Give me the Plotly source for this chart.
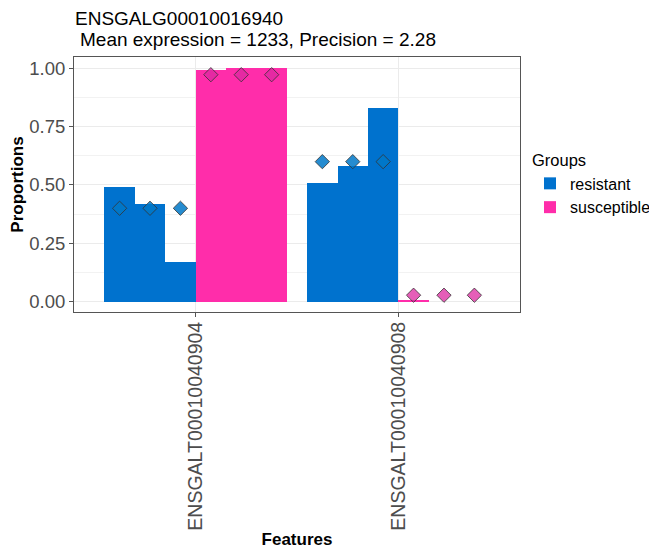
import plotly.graph_objects as go

# ---- data ----
features = ["ENSGALT00010040904", "ENSGALT00010040908"]
groups = ["resistant", "susceptible"]
# per-sample proportions for each feature (3 samples per group)
resistant_props = [[0.49, 0.42, 0.17], [0.51, 0.58, 0.83]]
susceptible_props = [[0.994, 1.0, 1.0], [0.006, 0.0, 0.0]]
# group mean proportion per feature (diamonds)
resistant_means = [0.40, 0.60]
susceptible_means = [0.973, 0.027]
y_ticks = [0.0, 0.25, 0.5, 0.75, 1.0]
y_ticklabels = ["0.00", "0.25", "0.50", "0.75", "1.00"]
title_line1 = "ENSGALG00010016940"
title_line2 = "Mean expression = 1233, Precision = 2.28"

bar_colors = {"resistant": "#0072CE", "susceptible": "#FF2DAA"}
pt_colors = {"resistant": "rgba(0,120,200,0.85)", "susceptible": "rgba(220,40,160,0.75)"}

offsets = {"resistant": [-0.375, -0.225, -0.075], "susceptible": [0.075, 0.225, 0.375]}
props = {"resistant": resistant_props, "susceptible": susceptible_props}
means = {"resistant": resistant_means, "susceptible": susceptible_means}

FONT = "Liberation Sans, Arial, sans-serif"

fig = go.Figure()
for g in groups:
    xs, ys, mx, my = [], [], [], []
    for i, f in enumerate(features):
        for j, off in enumerate(offsets[g]):
            xs.append(i + off)
            ys.append(props[g][i][j])
            mx.append(i + off)
            my.append(means[g][i])
    fig.add_trace(go.Bar(x=xs, y=ys, width=0.15, name=g, legendgroup=g,
                         marker=dict(color=bar_colors[g], line=dict(width=0))))
    fig.add_trace(go.Scatter(x=mx, y=my, mode="markers", legendgroup=g, showlegend=False,
                             marker=dict(symbol="diamond", size=11, color=pt_colors[g],
                                         line=dict(color="#333333", width=0.8))))

fig.update_layout(
    width=657, height=553,
    margin=dict(l=66, r=145, t=49, b=249, autoexpand=False),
    plot_bgcolor="white", paper_bgcolor="white",
    barmode="overlay", bargap=0,
    font=dict(family=FONT, color="#000000"),
    legend=dict(title=dict(text="Groups", font=dict(size=16.5, color="#000")),
                xref="container", yref="container",
                x=522 / 657, xanchor="left", y=1 - 137 / 553, yanchor="top",
                font=dict(size=16, color="#000"), tracegroupgap=0,
                itemsizing="constant", bgcolor="rgba(0,0,0,0)"),
    showlegend=True,
)

fig.update_xaxes(
    automargin=False,
    range=[-0.6, 1.6], tickvals=list(range(len(features))), ticktext=features,
    tickangle=-90, tickfont=dict(size=19.5, color="#4d4d4d"),
    ticklabelstandoff=-3,
    showgrid=True, gridcolor="#ebebeb", gridwidth=1,
    ticks="outside", ticklen=4, tickcolor="#555555",
    showline=True, mirror=True, linecolor="#555555", linewidth=1,
    zeroline=False,
    title=dict(text="<b>Features</b>", font=dict(size=17, color="#000"), standoff=3),
)
fig.update_yaxes(
    automargin=False,
    range=[-0.045, 1.049], tickvals=y_ticks, ticktext=y_ticklabels,
    tickfont=dict(size=18.5, color="#4d4d4d"),
    showgrid=True, gridcolor="#ebebeb", gridwidth=1,
    minor=dict(tickvals=[0.125, 0.375, 0.625, 0.875], showgrid=True,
               gridcolor="#f2f2f2", gridwidth=0.6, ticks=""),
    ticks="outside", ticklen=4, tickcolor="#555555",
    showline=True, mirror=True, linecolor="#555555", linewidth=1,
    zeroline=False,
    title=dict(text="<b>Proportions</b>", font=dict(size=17, color="#000"), standoff=4),
)

fig.add_annotation(text=title_line1, xref="paper", yref="paper",
                   x=(73 - 74) / 446, y=(312 - 18) / 255, xanchor="left", yanchor="middle",
                   showarrow=False, font=dict(size=19, color="#000"))
fig.add_annotation(text=title_line2, xref="paper", yref="paper",
                   x=(78 - 74) / 446, y=(312 - 39) / 255, xanchor="left", yanchor="middle",
                   showarrow=False, font=dict(size=19, color="#000"))

fig.write_html("out.html")
